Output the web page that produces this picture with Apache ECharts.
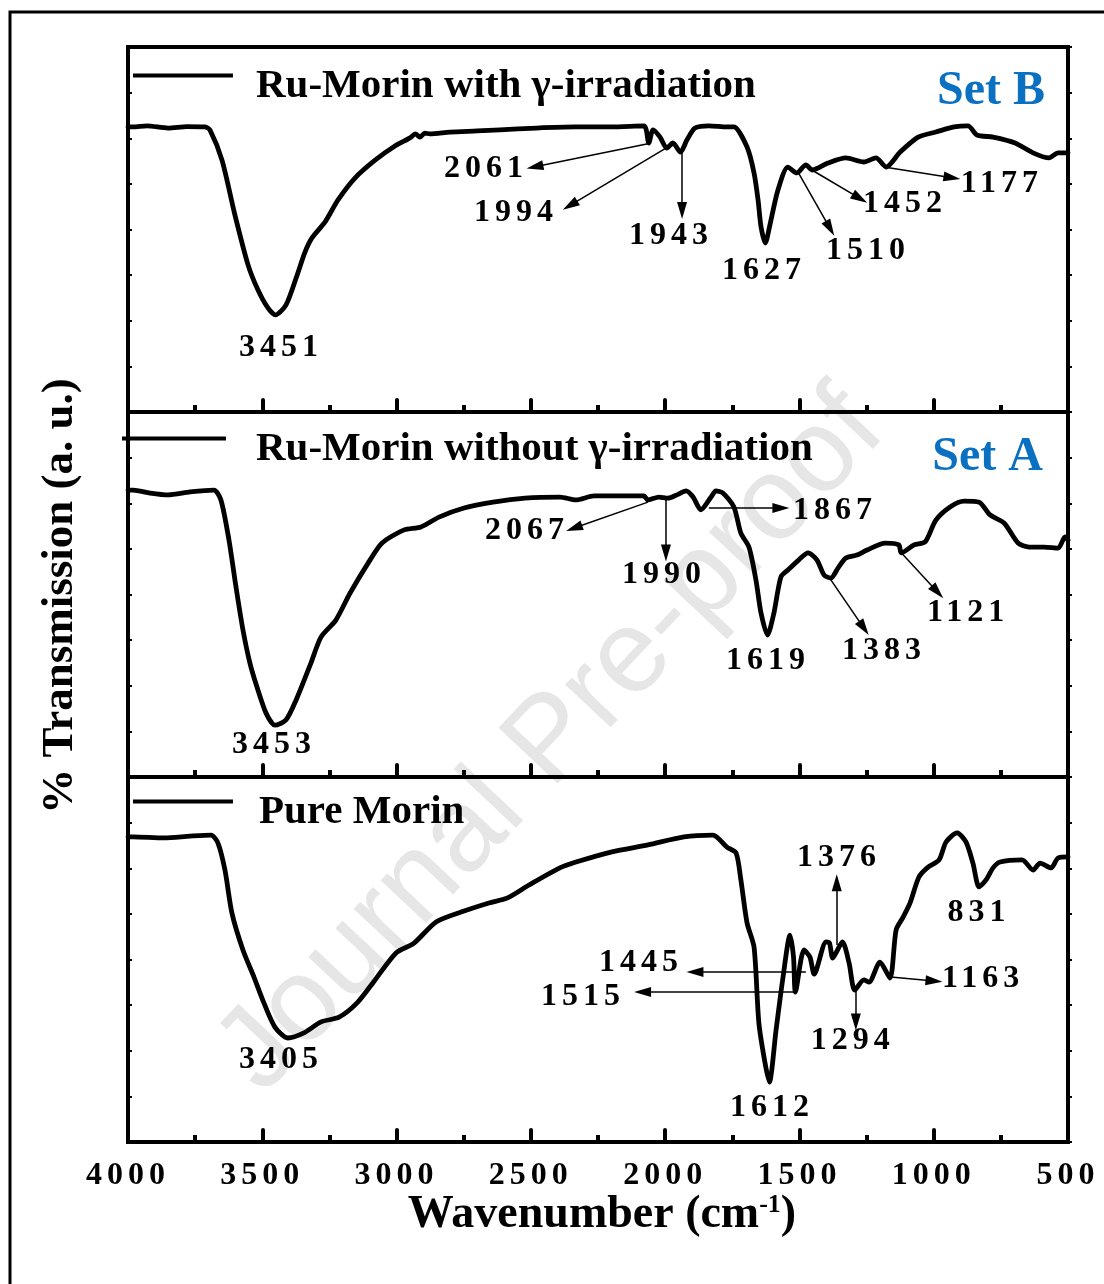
<!DOCTYPE html>
<html>
<head>
<meta charset="utf-8">
<script src="https://cdn.jsdelivr.net/npm/echarts@6/dist/echarts.min.js"></script>
<style>
html,body{margin:0;padding:0;background:#fff;}
#chart{width:1104px;height:1284px;}
</style>
</head>
<body>
<div id="chart"></div>
<script>
// ---- data (wavenumber cm-1, % transmission a.u.) ----
const seriesNames = ['Ru-Morin with γ-irradiation', 'Ru-Morin without γ-irradiation', 'Pure Morin'];
const setLabels = ['Set B', 'Set A', ''];

const setB = [[4000,78.1],[3981,78.1],[3930,78.4],[3851,77.8],[3780,78.2],[3713,78.1],[3695,77.3],[3650,69.0],[3602,54.0],[3553,40.3],[3516,33.4],[3479,28.5],[3451,26.6],[3412,29.3],[3374,36.7],[3341,43.8],[3315,47.7],[3266,52.1],[3218,58.1],[3155,64.1],[3080,69.0],[3006,72.9],[2950,75.1],[2930,76.2],[2913,75.3],[2895,76.4],[2876,76.2],[2801,76.7],[2700,77.0],[2615,77.3],[2480,77.8],[2336,78.1],[2200,78.1],[2079,78.4],[2061,73.7],[2045,77.3],[2019,75.3],[1994,72.3],[1971,73.7],[1943,71.2],[1919,74.5],[1889,77.8],[1837,78.4],[1770,78.1],[1744,78.1],[1695,72.6],[1669,65.5],[1654,58.1],[1643,50.7],[1627,46.3],[1610,51.2],[1580,60.8],[1543,67.1],[1510,65.5],[1476,67.7],[1452,66.3],[1394,68.2],[1327,69.6],[1260,68.5],[1215,69.6],[1177,67.1],[1125,71.2],[1058,75.3],[992,76.7],[924,78.1],[872,78.4],[839,75.9],[779,75.3],[697,73.7],[630,71.0],[571,69.6],[537,71.0],[511,71.0],[500,71.0]];

const setA = [[4000,78.6],[3981,78.6],[3918,77.8],[3851,77.3],[3769,78.1],[3680,78.6],[3654,75.9],[3624,64.9],[3598,52.1],[3572,40.3],[3546,31.2],[3520,24.7],[3486,17.5],[3453,14.2],[3412,15.6],[3374,21.1],[3319,31.2],[3281,38.4],[3226,43.0],[3173,50.4],[3106,58.6],[3054,64.1],[2972,67.7],[2909,68.5],[2842,71.2],[2749,73.7],[2641,75.3],[2522,76.4],[2392,76.7],[2332,75.9],[2265,77.0],[2079,77.0],[2065,75.9],[2023,76.7],[1990,76.4],[1956,77.3],[1922,78.4],[1896,76.7],[1867,73.2],[1829,76.7],[1811,78.4],[1785,77.8],[1744,74.0],[1718,66.8],[1688,63.0],[1662,54.0],[1643,44.9],[1619,38.9],[1595,44.9],[1569,54.8],[1543,56.7],[1502,59.5],[1468,61.4],[1435,59.5],[1408,55.3],[1383,54.5],[1356,57.3],[1327,60.0],[1286,60.8],[1248,62.2],[1181,64.1],[1130,63.6],[1121,61.4],[1073,63.6],[1032,64.4],[992,70.4],[939,74.0],[887,75.6],[831,75.3],[790,71.8],[738,69.6],[686,64.1],[645,63.0],[589,63.0],[537,62.7],[511,65.8],[500,64.9]];

const pureMorin = [[4000,83.6],[3981,83.6],[3866,83.3],[3769,83.8],[3691,84.1],[3665,81.9],[3639,74.5],[3613,62.7],[3572,52.6],[3531,45.2],[3494,38.1],[3453,31.5],[3405,28.5],[3345,29.9],[3281,32.9],[3214,34.2],[3147,38.1],[3080,44.4],[3002,51.8],[2935,54.5],[2853,60.3],[2760,63.0],[2656,65.5],[2589,66.8],[2507,70.4],[2392,75.1],[2332,76.7],[2198,79.5],[2064,81.4],[1930,83.6],[1822,84.1],[1770,80.8],[1736,79.2],[1718,71.8],[1695,60.0],[1669,53.4],[1651,32.6],[1628,21.6],[1612,16.4],[1587,30.7],[1561,45.2],[1535,56.7],[1522,50.7],[1515,41.1],[1483,52.6],[1461,50.7],[1445,46.0],[1401,54.8],[1388,54.5],[1376,50.4],[1340,54.8],[1315,49.0],[1294,41.6],[1260,44.4],[1241,43.8],[1200,49.3],[1163,44.9],[1140,58.1],[1114,61.6],[1088,65.5],[1055,72.6],[1021,75.3],[980,77.3],[954,82.2],[913,84.7],[880,82.2],[854,76.4],[831,69.9],[805,71.8],[779,75.1],[753,76.7],[671,77.3],[630,74.5],[604,76.4],[563,75.1],[537,77.8],[500,78.1]];

// peak labels: [text, wavenumber, value]
const peaksB = [['3451',3430,17.5],['2061',2667,66.7],['1994',2555,54.6],['1943',1978,48.4],['1627',1632,38.8],['1510',1245,44.3],['1452',1107,57.1],['1177',746,62.6]];
const peaksA = [['3453',3456,8.8],['2067',2514,67.4],['1990',2004,55.3],['1867',1368,72.9],['1619',1617,31.8],['1383',1185,34.5],['1121',872,44.9]];
const peaksP = [['3405',3430,22.5],['1612',1602,9.3],['1376',1353,77.8],['1445',2090,49.0],['1515',2306,39.7],['1294',1301,27.7],['1163',816,44.7],['831',831,62.7]];

// arrows: [fromWn, fromVal, toWn, toVal]
const arrowsB = [[2064,73.5,2485,67.2],[1997,72.3,2354,56.6],[1937,71.0,1937,55.2],[1502,65.3,1386,50.3],[1449,66.1,1275,58.5],[1167,66.9,932,64.2]];
const arrowsA = [[2064,75.3,2339,68.2],[1997,75.9,1997,61.4],[1837,73.7,1569,73.7],[1383,54.0,1260,40.8],[1120,61.4,986,50.7]];
const arrowsP = [[1361,54.0,1361,71.0],[1476,46.6,1889,46.6],[1509,41.1,2084,41.1],[1290,41.6,1290,32.9],[1160,45.2,999,44.1]];

// ---- wide digit spacing used in the original numerals ----
(function(){
  const P = CanvasRenderingContext2D.prototype;
  const ft = P.fillText;
  P.fillText = function(t, x, y, m){
    if ('letterSpacing' in this) {
      const want = /^\d{3,4}$/.test(String(t)) ? '5px' : '0px';
      if (this.letterSpacing !== want) {
        this.letterSpacing = want;
        const f = this.font; this.font = f;
      }
    }
    return m === undefined ? ft.call(this, t, x, y) : ft.call(this, t, x, y, m);
  };
})();

const FONT = '"Liberation Serif", "Times New Roman", serif';
const chart = echarts.init(document.getElementById('chart'), null, {renderer: 'canvas'});

const tops = [47, 412, 777];
const H = 365;
const datasets = [setB, setA, pureMorin];
const peaks = [peaksB, peaksA, peaksP];
const arrows = [arrowsB, arrowsA, arrowsP];

const grids = [], xAxes = [], yAxes = [], series = [], legends = [];
const legendCfg = [
  {left: 133, top: 66, w: 100, icon: 'path://M0,0L100,0L100,4L0,4Z M0,26L0.01,26L0,26.01Z', pad: 18},
  {left: 122, top: 429, w: 104, icon: 'path://M0,0L104,0L104,4L0,4Z M0,26L0.01,26L0,26.01Z', pad: 25},
  {left: 133, top: 792, w: 100, icon: 'path://M0,0L100,0L100,4L0,4Z M0,26L0.01,26L0,26.01Z', pad: 21}
];

for (let i = 0; i < 3; i++) {
  grids.push({left: 128, width: 940, top: tops[i], height: H, show: true, borderColor: '#000', borderWidth: 4, backgroundColor: 'transparent'});
  xAxes.push({
    gridIndex: i, type: 'value', min: 500, max: 4000, interval: 500, inverse: true,
    axisLine: {show: true, onZero: false, lineStyle: {color: '#000', width: 4}},
    axisTick: {show: true, inside: true, length: 12, lineStyle: {color: '#000', width: 4, cap: 'round'}},
    minorTick: {show: true, splitNumber: 2, length: 7, lineStyle: {color: '#000', width: 4}},
    splitLine: {show: false}, minorSplitLine: {show: false},
    axisLabel: {show: i === 2, color: '#000', fontFamily: FONT, fontWeight: 'bold', fontSize: 32, margin: 18,
      formatter: v => String(v)}
  });
  yAxes.push({
    gridIndex: i, type: 'value', min: 0, max: 100, interval: 12.5,
    axisLine: {show: true, lineStyle: {color: '#000', width: 4}},
    axisTick: {show: true, inside: true, length: 4, lineStyle: {color: '#000', width: 2}},
    axisLabel: {show: false}, splitLine: {show: false}
  });
  yAxes.push({
    gridIndex: i, type: 'value', min: 0, max: 100, interval: 12.5, position: 'right',
    axisLine: {show: true, lineStyle: {color: '#000', width: 4}},
    axisTick: {show: true, inside: false, length: 4, lineStyle: {color: '#000', width: 2}},
    axisLabel: {show: false}, splitLine: {show: false}
  });
  series.push({
    name: seriesNames[i], type: 'line', xAxisIndex: i, yAxisIndex: i * 2,
    data: datasets[i], showSymbol: false, smooth: 0.25, z: 5,
    lineStyle: {color: '#000', width: 4.8, join: 'round', cap: 'round'},
    itemStyle: {color: '#000'},
    emphasis: {disabled: true}, silent: true,
    markLine: {
      silent: true, animation: false, symbol: ['none', 'triangle'], symbolSize: [10, 17],
      lineStyle: {color: '#000', width: 1.5, type: 'solid'}, label: {show: false},
      emphasis: {disabled: true},
      data: arrows[i].map(a => [{coord: [a[0], a[1]]}, {coord: [a[2], a[3]]}])
    },
    markPoint: {
      silent: true, animation: false, symbol: 'rect', symbolSize: 1,
      itemStyle: {color: 'rgba(0,0,0,0)'},
      label: {show: true, position: 'inside', formatter: p => p.name, color: '#000',
        fontFamily: FONT, fontWeight: 'bold', fontSize: 32},
      emphasis: {disabled: true},
      data: peaks[i].map(p => ({name: p[0], coord: [p[1], p[2]]}))
    }
  });
  const lc = legendCfg[i];
  legends.push({
    data: [seriesNames[i]], left: lc.left, top: lc.top, orient: 'horizontal', padding: 0,
    icon: lc.icon, itemWidth: lc.w, itemHeight: 26, selectedMode: false,
    itemStyle: {color: '#000', borderWidth: 0},
    textStyle: {color: '#000', fontFamily: FONT, fontWeight: 'bold', fontSize: 41, padding: [0, 0, 0, lc.pad]}
  });
}

const option = {
  animation: false,
  backgroundColor: '#fff',
  grid: grids, xAxis: xAxes, yAxis: yAxes, series: series, legend: legends,
  graphic: [
    {type: 'text', z: -10, silent: true, x: 552, y: 742, rotation: 0.815,
      style: {text: 'Journal Pre-proof', font: 'normal 118px "Liberation Sans", Arial, sans-serif',
        fill: '#e6e6e6', align: 'center', verticalAlign: 'middle'}},
    {type: 'rect', silent: true, z: 100, shape: {x: 10, y: 12, width: 1200, height: 1400},
      style: {fill: 'none', stroke: '#000', lineWidth: 3}},
    {type: 'text', silent: true, x: 1045, y: 92,
      style: {text: setLabels[0], font: 'bold 48px ' + FONT, fill: '#0A70C2', align: 'right', verticalAlign: 'middle'}},
    {type: 'text', silent: true, x: 1043, y: 458,
      style: {text: setLabels[1], font: 'bold 48px ' + FONT, fill: '#0A70C2', align: 'right', verticalAlign: 'middle'}},
    {type: 'text', silent: true, x: 60, y: 596, rotation: Math.PI / 2,
      style: {text: '% Transmission (a. u.)', font: 'bold 45px ' + FONT, fill: '#000', align: 'center', verticalAlign: 'middle'}},
    {type: 'text', silent: true, x: 602, y: 1215,
      style: {text: '{a|Wavenumber (cm}{s|-1}{a|)}', align: 'center', verticalAlign: 'middle',
        rich: {a: {font: 'bold 46px ' + FONT, fill: '#000', color: '#000'},
               s: {font: 'bold 26px ' + FONT, color: '#000', verticalAlign: 'top', padding: [0, 0, 18, 0]}}}}
  ]
};
chart.setOption(option);
</script>
</body>
</html>
